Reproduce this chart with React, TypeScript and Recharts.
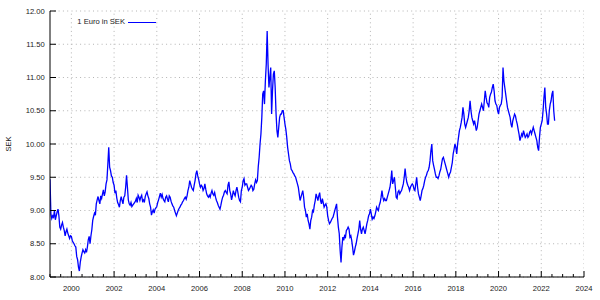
import React from 'react';
import { LineChart, Line, XAxis, YAxis, CartesianGrid, Legend, ReferenceLine } from 'recharts';

// Semi-monthly readings of 1 EUR in SEK
const r1999 = [9.47, 8.95, 8.88, 8.92, 8.90, 9.00, 8.86, 8.92, 8.98, 9.02, 8.92, 8.75, 8.72, 8.78, 8.82, 8.75, 8.70, 8.62, 8.68, 8.72, 8.66, 8.62, 8.58, 8.62];
const r2000 = [8.61, 8.55, 8.52, 8.50, 8.47, 8.45, 8.31, 8.26, 8.15, 8.09, 8.22, 8.30, 8.36, 8.41, 8.38, 8.36, 8.41, 8.37, 8.45, 8.56, 8.61, 8.50, 8.62, 8.71];
const r2001 = [8.85, 8.91, 8.96, 8.93, 9.10, 9.16, 9.21, 9.15, 9.10, 9.22, 9.18, 9.25, 9.31, 9.22, 9.28, 9.40, 9.46, 9.70, 9.95, 9.65, 9.60, 9.52, 9.50, 9.42];
const r2002 = [9.38, 9.26, 9.30, 9.19, 9.12, 9.09, 9.05, 9.15, 9.21, 9.15, 9.10, 9.20, 9.22, 9.35, 9.53, 9.35, 9.16, 9.10, 9.08, 9.12, 9.06, 9.08, 9.10, 9.12];
const r2003 = [9.14, 9.18, 9.12, 9.23, 9.20, 9.15, 9.20, 9.23, 9.14, 9.16, 9.12, 9.21, 9.25, 9.28, 9.22, 9.18, 9.10, 9.05, 8.93, 8.98, 9.01, 8.96, 9.02, 9.04];
const r2004 = [9.06, 9.12, 9.16, 9.21, 9.26, 9.20, 9.24, 9.18, 9.15, 9.13, 9.20, 9.22, 9.17, 9.13, 9.22, 9.20, 9.14, 9.10, 9.07, 9.05, 9.00, 8.96, 8.92, 8.96];
const r2005 = [9.00, 9.03, 9.05, 9.08, 9.10, 9.13, 9.15, 9.18, 9.20, 9.17, 9.22, 9.30, 9.35, 9.45, 9.40, 9.35, 9.32, 9.30, 9.38, 9.45, 9.55, 9.60, 9.52, 9.47];
const r2006 = [9.40, 9.35, 9.38, 9.36, 9.30, 9.33, 9.40, 9.32, 9.25, 9.22, 9.20, 9.23, 9.20, 9.26, 9.30, 9.25, 9.23, 9.27, 9.20, 9.15, 9.12, 9.08, 9.05, 9.02];
const r2007 = [9.08, 9.15, 9.20, 9.23, 9.28, 9.30, 9.27, 9.25, 9.38, 9.43, 9.30, 9.25, 9.16, 9.22, 9.30, 9.25, 9.22, 9.30, 9.35, 9.28, 9.20, 9.15, 9.13, 9.30];
const r2008 = [9.35, 9.45, 9.48, 9.38, 9.40, 9.40, 9.35, 9.30, 9.32, 9.35, 9.38, 9.36, 9.30, 9.32, 9.40, 9.46, 9.42, 9.45, 9.66, 9.80, 10.00, 10.15, 10.40, 10.75];
const r2009 = [10.80, 10.60, 10.95, 11.20, 11.70, 11.20, 10.85, 11.00, 11.15, 10.45, 10.80, 11.05, 11.10, 10.85, 10.45, 10.20, 10.10, 10.25, 10.40, 10.45, 10.45, 10.50, 10.50, 10.40];
const r2010 = [10.30, 10.22, 10.10, 9.95, 9.85, 9.75, 9.70, 9.62, 9.60, 9.57, 9.55, 9.52, 9.50, 9.45, 9.40, 9.35, 9.25, 9.15, 9.20, 9.25, 9.30, 9.20, 9.05, 9.00];
const r2011 = [8.90, 8.95, 8.85, 8.80, 8.72, 8.85, 8.90, 9.00, 8.98, 9.08, 9.15, 9.25, 9.20, 9.15, 9.22, 9.27, 9.15, 9.10, 9.18, 9.12, 9.05, 9.08, 9.10, 9.05];
const r2012 = [8.92, 8.85, 8.80, 8.82, 8.85, 8.88, 8.90, 8.95, 9.00, 9.05, 9.10, 8.90, 8.75, 8.65, 8.40, 8.22, 8.45, 8.60, 8.55, 8.62, 8.60, 8.70, 8.72, 8.75];
const r2013 = [8.72, 8.60, 8.62, 8.55, 8.45, 8.33, 8.38, 8.45, 8.50, 8.58, 8.65, 8.72, 8.85, 8.72, 8.65, 8.72, 8.75, 8.70, 8.65, 8.72, 8.80, 8.85, 8.92, 8.95];
const r2014 = [9.02, 8.95, 8.87, 8.90, 8.88, 8.92, 8.98, 9.05, 9.02, 9.00, 9.08, 9.12, 9.20, 9.30, 9.20, 9.15, 9.18, 9.15, 9.15, 9.20, 9.25, 9.30, 9.35, 9.45];
const r2015 = [9.60, 9.40, 9.45, 9.50, 9.35, 9.20, 9.18, 9.28, 9.30, 9.25, 9.28, 9.30, 9.35, 9.40, 9.50, 9.63, 9.50, 9.42, 9.38, 9.35, 9.30, 9.35, 9.38, 9.40];
const r2016 = [9.38, 9.32, 9.30, 9.40, 9.50, 9.35, 9.25, 9.20, 9.15, 9.22, 9.30, 9.33, 9.38, 9.45, 9.50, 9.53, 9.58, 9.60, 9.65, 9.75, 9.90, 10.00, 9.75, 9.68];
const r2017 = [9.62, 9.55, 9.50, 9.50, 9.48, 9.52, 9.58, 9.62, 9.70, 9.78, 9.80, 9.75, 9.70, 9.65, 9.60, 9.55, 9.50, 9.55, 9.58, 9.65, 9.72, 9.85, 9.92, 10.00];
const r2018 = [9.95, 9.85, 10.00, 10.10, 10.20, 10.25, 10.32, 10.40, 10.55, 10.45, 10.30, 10.25, 10.30, 10.35, 10.40, 10.50, 10.65, 10.50, 10.40, 10.35, 10.30, 10.35, 10.28, 10.20];
const r2019 = [10.25, 10.35, 10.45, 10.50, 10.55, 10.60, 10.55, 10.50, 10.65, 10.80, 10.70, 10.62, 10.60, 10.55, 10.70, 10.75, 10.78, 10.85, 10.90, 10.80, 10.65, 10.60, 10.58, 10.50];
const r2020 = [10.45, 10.55, 10.58, 10.60, 10.70, 11.15, 10.95, 10.85, 10.75, 10.65, 10.55, 10.50, 10.45, 10.40, 10.30, 10.25, 10.35, 10.40, 10.45, 10.42, 10.35, 10.30, 10.22, 10.15];
const r2021 = [10.05, 10.10, 10.15, 10.12, 10.20, 10.15, 10.10, 10.12, 10.15, 10.10, 10.12, 10.18, 10.20, 10.15, 10.20, 10.25, 10.20, 10.15, 10.10, 10.05, 9.95, 9.90, 10.10, 10.25];
const r2022 = [10.30, 10.35, 10.50, 10.70, 10.85, 10.55, 10.45, 10.30, 10.30, 10.50, 10.60, 10.65, 10.75, 10.80, 10.50, 10.35];

const years = [1999, 2000, 2001, 2002, 2003, 2004, 2005, 2006, 2007, 2008, 2009, 2010, 2011, 2012, 2013, 2014, 2015, 2016, 2017, 2018, 2019, 2020, 2021, 2022];
const yearlyRates = [r1999, r2000, r2001, r2002, r2003, r2004, r2005, r2006, r2007, r2008, r2009, r2010, r2011, r2012, r2013, r2014, r2015, r2016, r2017, r2018, r2019, r2020, r2021, r2022];

const xLabelTicks = [2000, 2002, 2004, 2006, 2008, 2010, 2012, 2014, 2016, 2018, 2020, 2022, 2024];
const xAllTicks = Array.from({ length: 51 }, (_, i) => 1999 + i * 0.5);
const yTicks = [8, 8.5, 9, 9.5, 10, 10.5, 11, 11.5, 12];

const seriesName = '1 Euro in SEK';
const axisTitle = 'SEK';

const data = years.flatMap((yr, k) =>
  yearlyRates[k].map((v, i) => ({ t: yr + i / 24, v }))
);

const FONT = '"Liberation Sans", Arial, Helvetica, sans-serif';
const FS = 7.6;
const TXT = '#1a1a1a';
const BLUE = '#0000ff';
const GRID = '#b4b4b4';
const DASH = '1 3.3';

const isMajor = (v: number) => Number.isInteger(v) && v % 2 === 0;

const BottomTick = (props: any) => {
  const { x, y, payload } = props;
  const v = payload.value;
  const major = isMajor(v);
  return (
    <g>
      <line x1={x} x2={x} y1={y} y2={y - (major ? 6 : 3)} stroke="#000" strokeWidth={1} />
      {major && (
        <text x={x} y={y + 14.2} textAnchor="middle" fontSize={FS} fontFamily={FONT} fill={TXT}>
          {v}
        </text>
      )}
    </g>
  );
};

const TopTick = (props: any) => {
  const { x, y, payload } = props;
  const major = isMajor(payload.value);
  return <line x1={x} x2={x} y1={y} y2={y + (major ? 6 : 3)} stroke="#000" strokeWidth={1} />;
};

const LeftTick = (props: any) => {
  const { x, y, payload } = props;
  return (
    <g>
      <line x1={x} x2={x + 6} y1={y} y2={y} stroke="#000" strokeWidth={1} />
      <text x={x - 5.3} y={y} dy="0.35em" textAnchor="end" fontSize={FS} fontFamily={FONT} fill={TXT}>
        {Number(payload.value).toFixed(2)}
      </text>
    </g>
  );
};

const RightTick = (props: any) => {
  const { x, y } = props;
  return <line x1={x} x2={x - 6} y1={y} y2={y} stroke="#000" strokeWidth={1} />;
};

const LegendContent = () => (
  <div style={{ position: 'relative', width: 82, height: 10, fontFamily: FONT, fontSize: FS, color: TXT }}>
    <span style={{ position: 'absolute', right: 31, top: 0, lineHeight: '10px', whiteSpace: 'nowrap' }}>{seriesName}</span>
    <span style={{ position: 'absolute', right: 0, top: 5, width: 28, height: 0, borderTop: `1px solid ${BLUE}` }} />
  </div>
);

const SekLabel = (props: any) => {
  const { viewBox } = props;
  const cx = 8;
  const cy = viewBox.y + viewBox.height / 2;
  return (
    <text
      x={cx}
      y={cy}
      transform={`rotate(-90 ${cx} ${cy})`}
      textAnchor="middle"
      dominantBaseline="central"
      fontSize={FS}
      fontFamily={FONT}
      fill={TXT}
    >
      {axisTitle}
    </text>
  );
};

export default function App() {
  return (
    <div style={{ position: 'absolute', left: 0, top: 0, width: 600, height: 300, background: '#fff' }}>
      <LineChart width={600} height={300} data={data} margin={{ top: 11, right: 16, bottom: 0, left: 0 }}>
        <CartesianGrid stroke={GRID} strokeDasharray={DASH} vertical={false} />
        {xLabelTicks.map((v) => (
          <ReferenceLine key={v} x={v} stroke={GRID} strokeDasharray={DASH} ifOverflow="hidden" />
        ))}
        <XAxis
          dataKey="t"
          type="number"
          domain={[1999, 2024]}
          ticks={xAllTicks}
          interval={0}
          height={23}
          tickSize={0}
          tickMargin={0}
          tickLine={false}
          axisLine={{ stroke: '#000', strokeWidth: 1 }}
          tick={(p: any) => <BottomTick {...p} />}
          allowDataOverflow
        />
        <XAxis
          xAxisId="top"
          dataKey="t"
          type="number"
          orientation="top"
          domain={[1999, 2024]}
          ticks={xAllTicks}
          interval={0}
          height={0}
          tickSize={0}
          tickMargin={0}
          tickLine={false}
          axisLine={{ stroke: '#000', strokeWidth: 1 }}
          tick={(p: any) => <TopTick {...p} />}
          allowDataOverflow
        />
        <YAxis
          type="number"
          domain={[8, 12]}
          ticks={yTicks}
          interval={0}
          width={50}
          tickSize={0}
          tickMargin={0}
          tickLine={false}
          axisLine={{ stroke: '#000', strokeWidth: 1 }}
          tick={(p: any) => <LeftTick {...p} />}
          label={(p: any) => <SekLabel {...p} />}
          allowDataOverflow
        />
        <YAxis
          yAxisId="right"
          orientation="right"
          type="number"
          domain={[8, 12]}
          ticks={yTicks}
          interval={0}
          width={0}
          tickSize={0}
          tickMargin={0}
          tickLine={false}
          axisLine={{ stroke: '#000', strokeWidth: 1 }}
          tick={(p: any) => <RightTick {...p} />}
          allowDataOverflow
        />
        <Legend
          layout="vertical"
          align="center"
          verticalAlign="middle"
          wrapperStyle={{ left: 74, top: 17, width: 82, height: 10 }}
          content={() => <LegendContent />}
        />
        <Line
          dataKey="v"
          name={seriesName}
          stroke={BLUE}
          strokeWidth={1.3}
          dot={false}
          activeDot={false}
          type="linear"
          isAnimationActive={false}
        />
        <Line
          xAxisId="top"
          yAxisId="right"
          dataKey="v"
          stroke="none"
          strokeWidth={0}
          dot={false}
          activeDot={false}
          legendType="none"
          isAnimationActive={false}
        />
      </LineChart>
    </div>
  );
}
